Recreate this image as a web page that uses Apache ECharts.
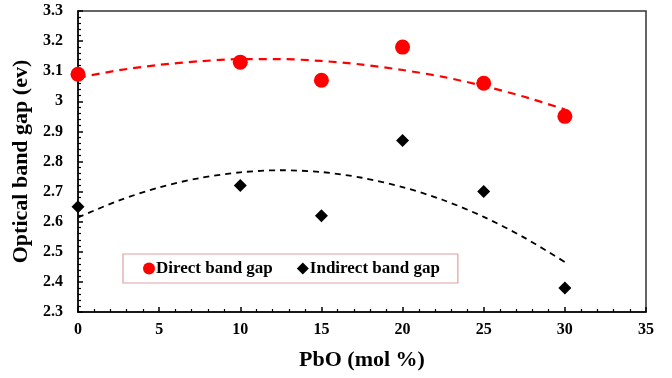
<!DOCTYPE html>
<html><head><meta charset="utf-8">
<script src="https://cdn.jsdelivr.net/npm/echarts@6/dist/echarts.min.js"></script>
<style>html,body{margin:0;padding:0;background:#fff}#c{width:672px;height:378px}</style>
</head><body><div id="c"></div>
<script>
const pbo = [0, 10, 15, 20, 25, 30];
const directGap = [3.09, 3.13, 3.07, 3.18, 3.06, 2.95];
const indirectGap = [2.65, 2.72, 2.62, 2.87, 2.70, 2.38];
// dashed trend curves
const trendX = [0, 2.5, 5, 7.5, 10, 12.5, 15, 17.5, 20, 22.5, 25, 27.5, 30];
const directTrend = [3.078, 3.103, 3.121, 3.133, 3.140, 3.140, 3.134, 3.122, 3.104, 3.081, 3.051, 3.015, 2.973];
const indirectTrend = [2.614, 2.670, 2.714, 2.745, 2.764, 2.771, 2.765, 2.746, 2.715, 2.672, 2.616, 2.547, 2.466];
const xTicks = [0, 5, 10, 15, 20, 25, 30, 35];
const yTicks = [2.3, 2.4, 2.5, 2.6, 2.7, 2.8, 2.9, 3, 3.1, 3.2, 3.3];

const font = 'Liberation Serif';
const zip = (xs, ys) => xs.map((x, i) => [x, ys[i]]);
const chart = echarts.init(document.getElementById('c'));
chart.setOption({
  animation: false,
  textStyle: {fontFamily: font},
  grid: {left: 78, right: 26, top: 11, bottom: 66, show: true, borderColor: '#333', borderWidth: 1.5},
  legend: {
    data: [{name: 'Direct band gap', icon: 'circle'}, {name: 'Indirect band gap', icon: 'diamond'}],
    left: 123, top: 254, itemWidth: 12, itemHeight: 12, itemGap: 24,
    padding: [6, 18, 6, 20], borderColor: '#e0a0a0', borderWidth: 1.2,
    textStyle: {fontFamily: font, fontWeight: 'bold', fontSize: 17, color: '#000', padding: [0, 0, 0, -4]}
  },
  xAxis: {
    type: 'value', min: xTicks[0], max: xTicks[xTicks.length - 1], interval: 5,
    name: 'PbO (mol %)', nameLocation: 'middle', nameGap: 37,
    nameTextStyle: {fontFamily: font, fontWeight: 'bold', fontSize: 22, color: '#000'},
    axisLine: {lineStyle: {color: '#000', width: 1.5}},
    axisTick: {inside: true, length: 5, lineStyle: {color: '#000', width: 1.5}},
    minorTick: {show: true, splitNumber: 5, length: 3, lineStyle: {color: '#000', width: 1.2}},
    axisLabel: {fontFamily: font, fontWeight: 'bold', fontSize: 16, color: '#000', margin: 10},
    splitLine: {show: false}
  },
  yAxis: {
    type: 'value', min: yTicks[0], max: yTicks[yTicks.length - 1], interval: 0.1,
    name: 'Optical band gap (ev)', nameLocation: 'middle', nameGap: 42,
    nameTextStyle: {fontFamily: font, fontWeight: 'bold', fontSize: 22, color: '#000'},
    axisLine: {show: true, lineStyle: {color: '#000', width: 1.5}},
    axisTick: {inside: true, length: 5, lineStyle: {color: '#000', width: 1.5}},
    minorTick: {show: true, splitNumber: 5, length: 3, lineStyle: {color: '#000', width: 1.2}},
    axisLabel: {fontFamily: font, fontWeight: 'bold', fontSize: 16, color: '#000', margin: 15,
      formatter: v => String(Math.round(v * 10) / 10)},
    splitLine: {show: false}
  },
  series: [
    {name: 'directTrend', type: 'line', smooth: 0.3, showSymbol: false, data: zip(trendX, directTrend),
     lineStyle: {color: '#ff0000', width: 2.2, type: [8, 6]}, z: 1, silent: true},
    {name: 'indirectTrend', type: 'line', smooth: 0.3, showSymbol: false, data: zip(trendX, indirectTrend),
     lineStyle: {color: '#000', width: 1.8, type: [6, 5]}, z: 1, silent: true},
    {name: 'Direct band gap', type: 'scatter', symbol: 'circle', symbolSize: 15,
     itemStyle: {color: '#ff0000', opacity: 1}, data: zip(pbo, directGap), z: 3},
    {name: 'Indirect band gap', type: 'scatter', symbol: 'diamond', symbolSize: 13,
     itemStyle: {color: '#000', opacity: 1}, data: zip(pbo, indirectGap), z: 3}
  ]
});
</script></body></html>
